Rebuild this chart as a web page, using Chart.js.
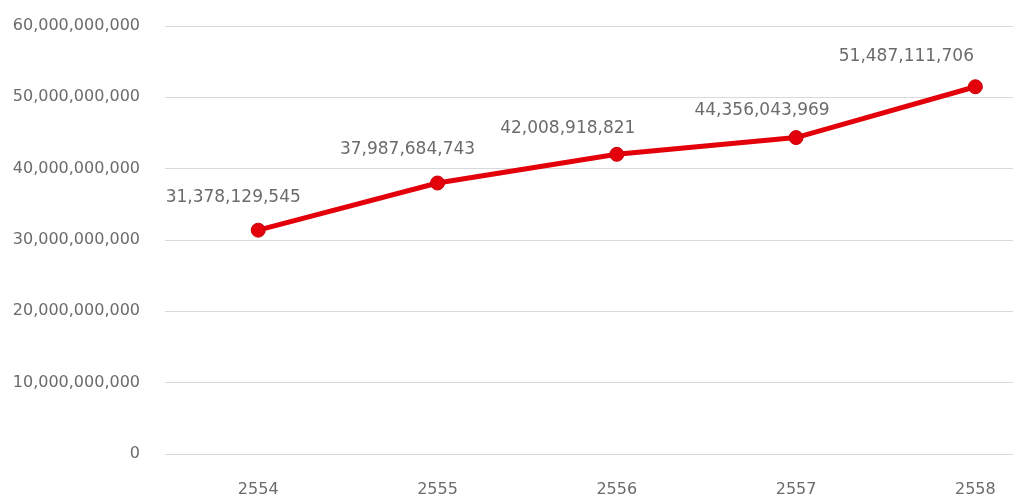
<!DOCTYPE html>
<html>
<head>
<meta charset="utf-8">
<script src="https://cdn.jsdelivr.net/npm/chart.js@4/dist/chart.umd.min.js"></script>
<style>
  html, body { margin: 0; padding: 0; background: #fff; }
  #wrap { width: 1013px; height: 501px; }
</style>
</head>
<body>
<div id="wrap"><canvas id="trendChart" width="1013" height="501"></canvas></div>
<script>
// --- Data ---
const years = [2554, 2555, 2556, 2557, 2558];
const amounts = [31378129545, 37987684743, 42008918821, 44356043969, 51487111706];
const yTicks = [0, 10000000000, 20000000000, 30000000000, 40000000000, 50000000000, 60000000000];

// label nudges relative to each point (dx, dy)
const labelShift = [[-25, -33], [-30, -33], [-49, -26], [-34, -27], [-69, -30]];

const fmt = v => Number(v).toLocaleString('en-US');
const textColor = '#6b6b6b';

// --- Value labels above the points ---
const valueLabels = {
  id: 'valueLabels',
  afterDatasetsDraw(chart) {
    const { ctx } = chart;
    const meta = chart.getDatasetMeta(0);
    ctx.save();
    ctx.font = '17px "DejaVu Sans"';
    ctx.fillStyle = textColor;
    ctx.textAlign = 'center';
    ctx.textBaseline = 'middle';
    meta.data.forEach((pt, i) => {
      const [dx, dy] = labelShift[i];
      ctx.fillText(fmt(amounts[i]), pt.x + dx, pt.y + dy);
    });
    ctx.restore();
  }
};

const ctx = document.getElementById('trendChart');

new Chart(ctx, {
  type: 'line',
  data: {
    datasets: [{
      data: years.map((y, i) => ({ x: y, y: amounts[i] })),
      borderColor: '#e3000b',
      backgroundColor: '#e3000b',
      borderWidth: 5,
      pointRadius: 7,
      pointBorderWidth: 1,
      pointBorderColor: '#c8000a',
      tension: 0,
      clip: false
    }]
  },
  options: {
    responsive: false,
    animation: false,
    layout: { autoPadding: false, padding: { top: 26, right: 0, left: 0, bottom: 0 } },
    plugins: { legend: { display: false }, tooltip: { enabled: false } },
    scales: {
      x: {
        type: 'linear',
        min: 2553.48,
        max: 2558.21,
        grid: { display: false },
        border: { display: false },
        afterBuildTicks: s => { s.ticks = years.map(v => ({ value: v })); },
        afterFit: s => { s.height = 47; s.paddingLeft = 0; s.paddingRight = 0; },
        ticks: {
          color: textColor,
          padding: 18,
          font: { family: 'DejaVu Sans', size: 16 },
          callback: v => String(v)
        }
      },
      y: {
        min: 0,
        max: 60000000000,
        afterBuildTicks: s => { s.ticks = yTicks.map(v => ({ value: v })); },
        afterFit: s => { s.width = 165; s.paddingTop = 0; s.paddingBottom = 0; },
        grid: { color: '#d9d9d9', lineWidth: 1, drawTicks: false },
        border: { display: false },
        ticks: {
          color: textColor,
          padding: 25,
          font: { family: 'DejaVu Sans', size: 16 },
          callback: v => fmt(v)
        }
      }
    }
  },
  plugins: [valueLabels]
});
</script>
</body>
</html>
